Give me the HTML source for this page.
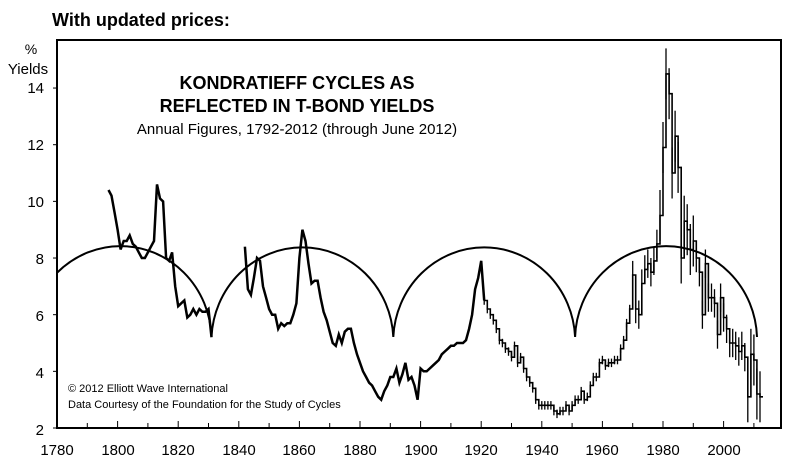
<!DOCTYPE html>
<html><head><meta charset="utf-8"><style>
body{margin:0;background:#fff;width:800px;height:464px;overflow:hidden;font-family:"Liberation Sans",sans-serif}
</style></head><body>
<svg id="s" width="800" height="464" xmlns="http://www.w3.org/2000/svg" font-family="Liberation Sans, sans-serif">
<text x="52" y="26" font-size="18" font-weight="bold">With updated prices:</text>
<rect x="57" y="40" width="724" height="388" fill="none" stroke="#000" stroke-width="2"/>
<text x="31" y="54" font-size="14" text-anchor="middle">%</text>
<text x="28" y="74" font-size="15" text-anchor="middle">Yields</text>
<g font-size="15" text-anchor="end">
<text x="44" y="93">14</text><text x="44" y="150">12</text><text x="44" y="207">10</text>
<text x="44" y="264">8</text><text x="44" y="321">6</text><text x="44" y="378">4</text><text x="44" y="435">2</text>
</g>
<g font-size="15" text-anchor="middle">
<text x="57" y="455">1780</text><text x="118" y="455">1800</text><text x="178" y="455">1820</text>
<text x="239" y="455">1840</text><text x="299" y="455">1860</text><text x="360" y="455">1880</text>
<text x="421" y="455">1900</text><text x="481" y="455">1920</text><text x="542" y="455">1940</text>
<text x="602" y="455">1960</text><text x="663" y="455">1980</text><text x="724" y="455">2000</text>
</g>
<g font-size="18" font-weight="bold" text-anchor="middle">
<text x="297" y="89">KONDRATIEFF CYCLES AS</text>
<text x="297" y="112">REFLECTED IN T-BOND YIELDS</text>
</g>
<text x="297" y="134" font-size="15" text-anchor="middle">Annual Figures, 1792-2012 (through June 2012)</text>
<text x="68" y="392" font-size="11">© 2012 Elliott Wave International</text>
<text x="68" y="408" font-size="11">Data Courtesy of the Foundation for the Study of Cycles</text>
<g id="ticks" stroke="#000" stroke-width="1"></g>
<clipPath id="c"><rect x="57" y="40" width="724" height="388"/></clipPath>
<g clip-path="url(#c)" fill="none" stroke="#000" stroke-width="2">
<path d="M 29.6 337 A 91 94 0 0 1 211.5 337 A 91 94 0 0 1 393.3 337 A 91 94 0 0 1 575.1 337 A 91 94 0 0 1 757 337"/>
</g>
<g id="data" fill="none" stroke="#000"></g>
</svg>
<script>
var X=function(y){return 57+(y-1780)*3.03},Y=function(v){return 428-(v-2)*28.33};
var t=document.getElementById('ticks'),h='';
for(var y=1780;y<=2010;y+=10){var x=X(y);h+='<line x1="'+x+'" y1="428" x2="'+x+'" y2="'+(y%20?423:421)+'"/>';}
for(var v=2;v<=14;v+=2){h+='<line x1="53" y1="'+Y(v)+'" x2="57" y2="'+Y(v)+'"/>';}
t.innerHTML=h;
var a=[[1797,10.4,10.2,9.6,9.0,8.3,8.6,8.6,8.8,8.5,8.4,8.2,8.0,8.0,8.2,8.4,8.6,10.6,10.1,10.0,8.0,7.9,8.2,7.0,6.3,6.4,6.5,5.9,6.0,6.2,6.0,6.2,6.1,6.1,6.2,5.2],
[1842,8.4,6.9,6.7,7.3,8.0,7.9,7.0,6.6,6.2,6.0,6.0,5.5,5.7,5.6,5.7,5.7,6.0,6.4,8.0,9.0,8.6,7.8,7.1,7.2,7.2,6.6,6.1,5.8,5.4,5.0,4.9,5.3,5.0,5.4,5.5,5.5,5.0,4.6,4.3,4.0,3.8,3.6,3.5,3.3,3.1,3.0,3.3,3.5,3.8,3.8,4.1,3.6,3.9,4.3,3.7,3.8,3.5,3.0,4.1,4.0,4.0,4.1,4.2,4.3,4.4,4.6,4.7,4.8,4.9,4.9,5.0,5.0,5.0,5.1,5.5,6.0,6.9,7.3,7.9,6.5]];
var s=[1921,6.5,6.2,6.0,5.8,5.5,5.1,5.0,4.8,4.7,4.5,4.9,4.3,4.5,4.1,3.8,3.6,3.4,3.0,2.8,2.8,2.8,2.8,2.8,2.6,2.5,2.6,2.6,2.8,2.6,2.8,3.0,3.0,3.3,3.0,3.1,3.5,3.8,3.8,4.3,4.4,4.2,4.3,4.3,4.4,4.4,4.8,5.1,5.7,6.2,7.4,6.2,6.0,7.1,7.6,7.8,7.5,7.9,8.5,9.5,11.9,14.5,13.8,11.0,12.3,11.2,8.0,9.3,9.0,8.3,8.6,8.0,7.5,6.0,7.8,6.6,6.6,6.4,5.3,6.6,5.9,5.5,5.0,5.0,4.9,4.7,4.9,4.5,3.1,4.6,4.4,3.2,3.1];
var o='';
a.forEach(function(r){var p=[];for(var i=1;i<r.length;i++)p.push(X(r[0]+i-1).toFixed(1)+','+Y(r[i]).toFixed(1));o+='<polyline stroke-width="2.5" points="'+p.join(' ')+'"/>';});
var p=[],b='';
for(var i=1;i<s.length;i++){var yr=s[0]+i-1,x=X(yr),x2=X(yr+1),yy=Y(s[i]);p.push(x.toFixed(1)+','+yy.toFixed(1));p.push(x2.toFixed(1)+','+yy.toFixed(1));
var r=yr>=1970?0.5+(yr>=1979&&yr<=1990?0.4:0):0.15;if(yr>=2008)r=0.9;
b+='<line x1="'+x.toFixed(1)+'" x2="'+x.toFixed(1)+'" y1="'+Y(s[i]+r).toFixed(1)+'" y2="'+Y(s[i]-r).toFixed(1)+'"/>';}
o+='<polyline stroke-width="1.6" points="'+p.join(' ')+'"/><g stroke-width="1.3">'+b+'</g>';
document.getElementById('data').innerHTML=o;
</script>
</body></html>
